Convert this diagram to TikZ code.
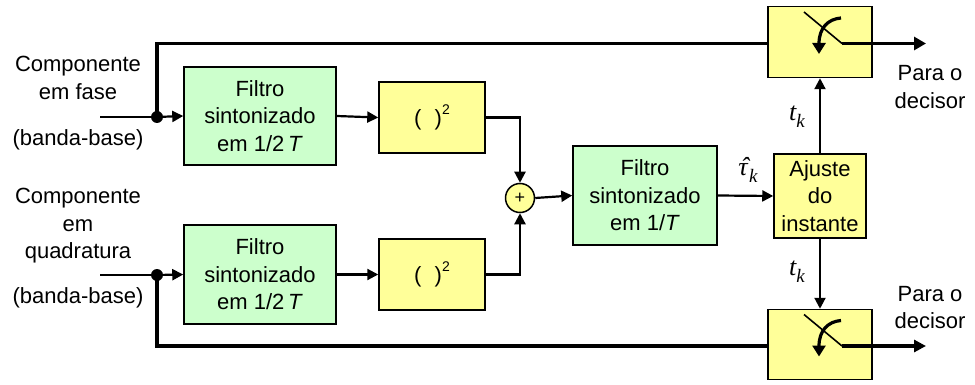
\documentclass[tikz,border=0pt]{standalone}
\usepackage{fontspec}
\setmainfont{Liberation Sans}
\newfontfamily\serifit{Liberation Serif}[ItalicFont={Liberation Serif Italic}]
\usetikzlibrary{arrows.meta}
\definecolor{gfill}{RGB}{204,255,204}
\definecolor{yfill}{RGB}{255,255,153}
\newcommand{\tkl}{{\serifit\itshape\fontsize{26}{26}\selectfont t\raisebox{-0.26em}{\fontsize{19}{19}\selectfont k}}}
\newcommand{\tauhat}{{\serifit\itshape\fontsize{26}{26}\selectfont \ooalign{\hfil\hspace{0.08em}ˆ\hfil\cr τ\cr}\raisebox{-0.26em}{\fontsize{19}{19}\selectfont k}}}
\begin{document}
\begin{tikzpicture}[x=1pt,y=-1pt,
  every node/.style={font=\fontsize{22}{27.5}\selectfont, align=center, inner sep=0pt},
  gbox/.style={draw=black, line width=1.5pt, fill=gfill},
  ybox/.style={draw=black, line width=1.5pt, fill=yfill},
  conn/.style={line width=2.2pt, -{Triangle[length=11pt,width=11pt]}},
  heavy/.style={line width=3.8pt},
  heavyarrow/.style={line width=3.8pt, -{Triangle[length=12pt,width=13pt]}},
  dotnode/.style={circle, fill=black, minimum size=12pt}]
\useasboundingbox (0,0) rectangle (975,385);

% blocks
\node[gbox, minimum width=152pt, minimum height=98pt] (filtA) at (260,116) {Filtro\\sintonizado\\em 1/2\,\textit{T}};
\node[ybox, minimum width=106pt, minimum height=71pt] (sqA) at (432,117.5) {(\hspace{0.6em})\raisebox{0.5em}{\fontsize{14}{14}\selectfont 2}};
\node[gbox, minimum width=152pt, minimum height=99pt] (filtB) at (260,274.5) {Filtro\\sintonizado\\em 1/2\,\textit{T}};
\node[ybox, minimum width=106pt, minimum height=71pt] (sqB) at (432,274.5) {(\hspace{0.6em})\raisebox{0.5em}{\fontsize{14}{14}\selectfont 2}};
\node[ybox, circle, minimum size=29pt, font=\fontsize{18}{18}\selectfont] (sum) at (520,198) {+};
\node[gbox, minimum width=144pt, minimum height=99pt] (filtC) at (645,195.5) {Filtro\\sintonizado\\em 1/\textit{T}};
\node[ybox, minimum width=92pt, minimum height=84pt] (adj) at (820,196) {Ajuste\\do\\instante};
\node[ybox, minimum width=104pt, minimum height=71pt] (swA) at (820,42) {};
\node[ybox, minimum width=104pt, minimum height=70pt] (swB) at (820,344.5) {};

% switch symbols
\foreach \dy in {0,302.5}{
  \begin{scope}[yshift=-\dy pt]
    \draw[line width=1.6pt] (804,12) -- (842,43.5);
    \draw[line width=3.2pt, -{Triangle[length=11pt,width=13pt]}] (841,18) .. controls (828,19) and (819,28) .. (819,54);
  \end{scope}
}
\coordinate (pivA) at (842,43.5);
\coordinate (outA) at (926,43.5);
\coordinate (pivB) at (842,346);
\coordinate (outB) at (926,346);
\draw[heavyarrow] (pivA) -- (outA);
\draw[line width=3.2pt, -{Triangle[length=12pt,width=12pt]}] (pivB) -- (outB);

% inputs and dots
\coordinate (inA) at (100,117);
\coordinate (inB) at (100,275);
\node[dotnode] (dotA) at (157,117) {};
\node[dotnode] (dotB) at (157,275) {};
\draw[line width=2.4pt] (inA) -- (dotA.center);
\draw[line width=2.4pt] (inB) -- (dotB.center);
\draw[conn] (dotA.center) -- (filtA.west);
\draw[conn] (dotB.center) -- (filtB.west);
\draw[heavy] (dotA.center) |- (157,43.5) -- (swA.west |- 0,43.5);
\draw[line width=3.2pt] (dotB.center) |- (swB.west |- 0,346);

% connectors
\draw[conn] (filtA.east) -- (sqA.west);
\draw[conn] (filtB.east) -- (sqB.west);
\draw[conn] (sqA.east) -| (sum.north);
\draw[conn] (sqB.east) -| (sum.south);
\draw[conn] (sum.east) -- (filtC.west);
\draw[conn] (filtC.east) -- (adj.west);
\draw[conn] (adj.north) -- (swA.south);
\draw[conn] (adj.south) -- (swB.north);

% labels
\node (lA) at (78,78) {Componente\\em fase};
\node (bA) at (78,140) {(banda-base)};
\node (lB) at (78,226) {Componente\\em\\quadratura};
\node (bB) at (78,298) {(banda-base)};
\node (dA) at (930,87) {Para o\\decisor};
\node (dB) at (930,307.5) {Para o\\decisor};
\node (tkA) at (797,117) {\tkl};
\node (tkB) at (797,272) {\tkl};
\node (tau) at (748,170) {\tauhat};
\end{tikzpicture}
\end{document}
